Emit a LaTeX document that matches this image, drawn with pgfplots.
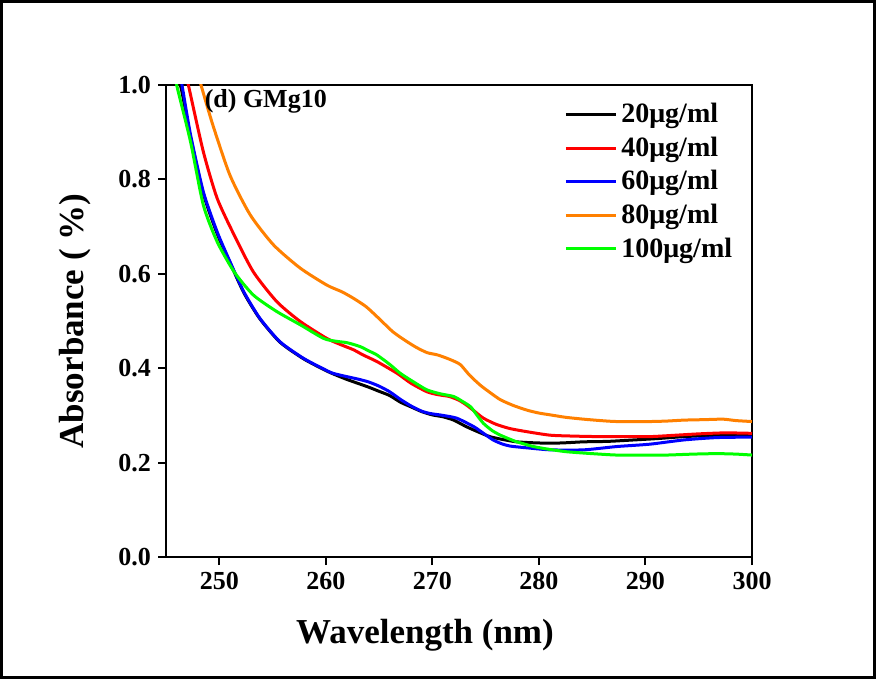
\documentclass[border=0pt]{standalone}
\usepackage{fontspec}
\setmainfont{Liberation Serif}
\usepackage{pgfplots}
\pgfplotsset{compat=1.18}
\definecolor{c20}{RGB}{0,0,0}
\definecolor{c40}{RGB}{255,0,0}
\definecolor{c60}{RGB}{0,0,255}
\definecolor{c80}{RGB}{255,128,0}
\definecolor{c100}{RGB}{0,255,0}
\begin{document}
\begin{tikzpicture}
\begin{axis}[
  name=ax,
  scale only axis,
  width=293pt, height=236pt,
  xmin=245, xmax=300, ymin=0, ymax=1.0,
  xtick={250,260,270,280,290,300},
  ytick={0,0.2,0.4,0.6,0.8,1.0},
  xtick pos=bottom, ytick pos=left,
  tick align=outside,
  major tick length=4pt,
  every tick/.style={black, line width=1pt},
  axis line style={line width=1pt},
  /pgf/number format/assume math mode=true,
  yticklabel style={/pgf/number format/.cd, fixed, fixed zerofill, precision=1},
  ticklabel style={font=\fontsize{13}{15}\selectfont\bfseries},
  xlabel={Wavelength (nm)},
  ylabel={Absorbance ( \%)},
  label style={font=\fontsize{17.5}{20}\selectfont\bfseries},
  xlabel style={at={(axis description cs:0.442,-0.165)}, anchor=center},
  ylabel style={at={(axis description cs:-0.155,0.5)}, anchor=center},
  legend style={at={(rel axis cs:0.977,0.975)}, anchor=north east,
    draw=none, fill=none, font=\fontsize{14}{16}\selectfont\bfseries,
    row sep=1.6pt, inner sep=1pt},
  legend cell align=left,
  legend image code/.code={\draw[#1] (0pt,0pt) -- (25pt,0pt);},
  every axis plot/.append style={line width=1.5pt, line join=round, smooth, tension=0.4},
]
\addplot[c20] coordinates {
(246.0,1.03) (246.5,0.985) (247.3,0.89) (248.5,0.77) (249.8,0.685) (251.0,0.624)
(252.3,0.56) (253.8,0.505) (255.7,0.455) (257.9,0.42) (260.0,0.395) (261,0.385)
(262,0.376) (263,0.368) (264,0.36) (265,0.351) (266,0.342) (267,0.328) (268,0.318)
(269,0.308) (270,0.301) (271,0.297) (272,0.29) (273.2,0.276) (274.3,0.265)
(275.4,0.255) (276.6,0.249) (277.9,0.244) (279.5,0.242) (281.1,0.241) (282.5,0.242)
(284.2,0.244) (286.5,0.245) (288.9,0.248) (291.2,0.251) (293.6,0.255) (296.7,0.258)
(300,0.258)};
\addlegendentry{20μg/ml}
\addplot[c40] coordinates {
(246.8,1.03) (247.1,1.0) (248.5,0.859) (249.8,0.76) (251.4,0.682) (253.2,0.604)
(255.4,0.541) (257.6,0.499) (260.1,0.463) (261.5,0.449) (262.6,0.439) (263.5,0.428)
(264.8,0.414) (266.7,0.389) (268,0.368) (269.5,0.35) (270.5,0.344) (271.6,0.34)
(272.5,0.332) (273.2,0.322) (274,0.308) (274.8,0.294) (276,0.281) (277.3,0.272)
(279,0.265) (281.1,0.258) (283.5,0.256) (285.8,0.255) (288,0.255) (290.4,0.255)
(292.8,0.258) (295.1,0.261) (297.5,0.263) (300,0.262)};
\addlegendentry{40μg/ml}
\addplot[c60] coordinates {
(246.2,1.03) (246.5,1.0) (247.3,0.895) (248.5,0.774) (249.8,0.689) (251.0,0.626)
(252.3,0.562) (253.8,0.506) (255.7,0.456) (257.9,0.421) (260.0,0.396) (260.7,0.389)
(262,0.382) (263,0.377) (264,0.371) (265,0.362) (266,0.35) (267,0.334) (268,0.32)
(269,0.309) (269.8,0.304) (271,0.3) (272.3,0.294) (273.9,0.276) (274.8,0.262)
(275.7,0.248) (276.5,0.24) (277.3,0.235) (279,0.231) (281.1,0.227) (284.2,0.227)
(287.3,0.234) (290.4,0.239) (293.6,0.248) (296.7,0.253) (300,0.254)};
\addlegendentry{60μg/ml}
\addplot[c80] coordinates {
(248.0,1.03) (248.2,1.007) (249.4,0.915) (251.0,0.809) (252.9,0.725) (255.1,0.661)
(257.6,0.612) (260.1,0.576) (261.5,0.562) (262.6,0.548) (263.8,0.53) (265,0.505)
(266.3,0.477) (267.5,0.458) (268.5,0.444) (269.5,0.433) (270.5,0.428) (271.6,0.419)
(272.6,0.408) (273.5,0.385) (274.5,0.364) (275.5,0.347) (276.4,0.333) (277.6,0.321)
(278.9,0.311) (280,0.305) (281.1,0.301) (282.5,0.296) (284.2,0.292) (285.8,0.289)
(287.3,0.287) (290.4,0.287) (292,0.288) (293.6,0.29) (295.5,0.291) (297.3,0.292)
(298.5,0.289) (300,0.287)};
\addlegendentry{80μg/ml}
\addplot[c100] coordinates {
(245.8,1.03) (246.0,1.0) (247.3,0.88) (248.5,0.746) (249.8,0.668) (251.4,0.604)
(253.2,0.555) (255.4,0.52) (257.6,0.492) (259.8,0.463) (261,0.457) (262.0,0.454)
(263.2,0.446) (264,0.437) (264.8,0.428) (266,0.408) (267,0.389) (268.3,0.37)
(269.5,0.354) (270.7,0.346) (272,0.34) (272.8,0.33) (273.6,0.318) (274.2,0.3)
(274.8,0.283) (275.6,0.268) (276.4,0.258) (277.8,0.245) (279.5,0.234) (281,0.228)
(282.6,0.223) (285,0.219) (287.3,0.216) (290,0.216) (292,0.216) (294.5,0.218)
(296.7,0.219) (298.5,0.218) (300,0.216)};
\addlegendentry{100μg/ml}
\node[anchor=west, font=\fontsize{13}{15}\selectfont\bfseries, inner sep=0pt]
  at (axis cs:248.6,0.965) {(d) GMg10};
\end{axis}
\draw[line width=1.5pt] ([shift={(-82.25pt,-60.25pt)}]ax.south west)
  rectangle ([shift={(354.25pt,277.75pt)}]ax.south west);
\end{tikzpicture}
\end{document}
